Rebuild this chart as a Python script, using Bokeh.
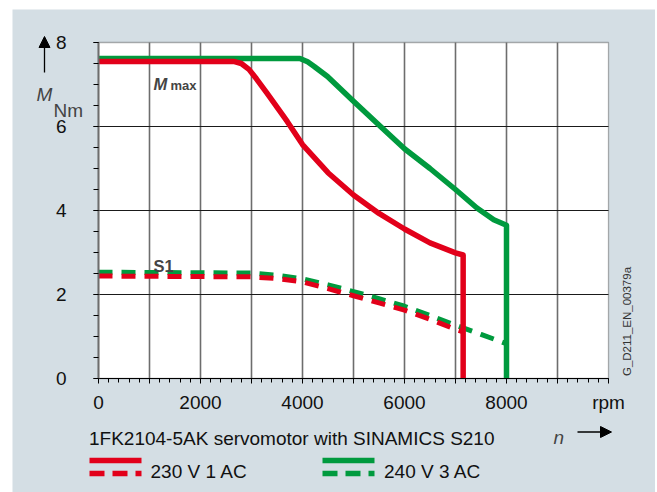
from bokeh.plotting import figure
from bokeh.models import FixedTicker, Label, Arrow, NormalHead, Range1d, Spacer, BoxAnnotation
from bokeh.layouts import row, column
from bokeh.embed import file_html
from bokeh.resources import INLINE

# ---- data ----
speed_230_mmax = [0, 2650, 2800, 2950, 3100, 3300, 3500, 3700, 4000, 4500, 5000, 5500, 6000, 6500, 7000, 7150, 7150]
torque_230_mmax = [7.55, 7.55, 7.50, 7.36, 7.13, 6.80, 6.46, 6.12, 5.57, 4.90, 4.37, 3.93, 3.56, 3.23, 2.99, 2.94, 0]

speed_240_mmax = [0, 3950, 4100, 4230, 4490, 5000, 5530, 6000, 6500, 7000, 7420, 7750, 8000, 8000]
torque_240_mmax = [7.62, 7.62, 7.54, 7.43, 7.19, 6.60, 6.00, 5.47, 5.00, 4.50, 4.06, 3.78, 3.65, 0]

speed_230_s1 = [0, 3000, 3500, 4000, 4500, 5000, 5500, 6000, 6500, 7000, 7150]
torque_230_s1 = [2.44, 2.42, 2.38, 2.30, 2.14, 1.97, 1.80, 1.63, 1.41, 1.17, 1.11]

speed_240_s1 = [0, 3000, 3500, 4000, 4500, 5000, 5500, 6000, 6500, 7000, 7500, 8000]
torque_240_s1 = [2.53, 2.51, 2.46, 2.37, 2.23, 2.07, 1.90, 1.72, 1.50, 1.27, 1.05, 0.83]

x_ticks = [0, 1000, 2000, 3000, 4000, 5000, 6000, 7000, 8000, 9000, 10000]
x_tick_labels = {0: "0", 1000: "", 2000: "2000", 3000: "", 4000: "4000", 5000: "",
                 6000: "6000", 7000: "", 8000: "8000", 9000: "", 10000: "rpm"}
y_ticks = [0, 2, 4, 6, 8]
x_limits = (0, 10000)
y_limits = (0, 8)

title_text = "1FK2104-5AK servomotor with SINAMICS S210"
legend_230 = "230 V 1 AC"
legend_240 = "240 V 3 AC"
drawing_id = "G_D211_EN_00379a"

# ---- style ----
BG = "#d4dee4"
RED = "#e2001a"
GREEN = "#009a3e"
FONT = "Liberation Sans"
FS = "19px"

# page geometry: canvas at page (12, 9), 643 x 483; plot area x 98..608, y 42..378
W, H = 643, 483
OX, OY = 12, 9
FX0, FX1, FY0, FY1 = 98, 608, 42, 378
sx_per = (FX1 - FX0) / (x_limits[1] - x_limits[0])
sy_per = (FY1 - FY0) / (y_limits[1] - y_limits[0])


def px_x(sx):
    return x_limits[0] + (sx - FX0) / sx_per


def px_y(sy):
    return y_limits[0] + (FY1 - sy) / sy_per


p = figure(width=W, height=H,
           x_range=Range1d(px_x(OX), px_x(OX + W)), y_range=Range1d(px_y(OY + H), px_y(OY)),
           output_backend="svg", toolbar_location=None, min_border=0,
           background_fill_color=BG, border_fill_color=BG, outline_line_color=None)

# white plot area with black border
p.add_layout(BoxAnnotation(left=x_limits[0], right=x_limits[1], bottom=y_limits[0], top=y_limits[1],
                           fill_color="white", fill_alpha=1, line_color="black", line_width=1.3,
                           level="image"))

# axes (drawn at the plot area edges)
xa = p.xaxis[0]
xa.fixed_location = 0
xa.bounds = x_limits
xa.ticker = FixedTicker(ticks=x_ticks, minor_ticks=list(range(0, 10001, 200)))
xa.major_label_overrides = x_tick_labels
xa.axis_line_color = "black"
xa.axis_line_width = 1.2
xa.major_tick_line_color = "black"
xa.minor_tick_line_color = "black"
xa.major_tick_out = 5
xa.major_tick_in = 0
xa.minor_tick_out = 4
xa.minor_tick_in = 0
xa.major_label_standoff = 8
xa.major_label_text_font = FONT
xa.major_label_text_font_size = FS
xa.major_label_text_color = "#111111"

ya = p.yaxis[0]
ya.fixed_location = 0
ya.bounds = y_limits
ya.ticker = FixedTicker(ticks=y_ticks, minor_ticks=[i * 0.5 for i in range(17)])
ya.axis_line_color = "#6d6d6d"
ya.axis_line_width = 2
ya.major_tick_line_color = "black"
ya.minor_tick_line_color = "black"
ya.major_tick_out = 5
ya.major_tick_in = 0
ya.minor_tick_out = 5
ya.minor_tick_in = 0
ya.major_label_standoff = 27
ya.major_label_text_font = FONT
ya.major_label_text_font_size = FS
ya.major_label_text_color = "#111111"

# grids, limited to the plot area
p.xgrid.ticker = FixedTicker(ticks=x_ticks[1:-1])
p.xgrid.grid_line_color = "#6d6d6d"
p.xgrid.grid_line_width = 1.6
p.ygrid.ticker = FixedTicker(ticks=[2, 4, 6])
p.ygrid.grid_line_color = "#1a1a1a"
p.ygrid.grid_line_width = 1.2
p.xgrid.bounds = x_limits
p.ygrid.bounds = y_limits
grid_ok = True
try:
    p.xgrid.cross_bounds = y_limits
    p.ygrid.cross_bounds = x_limits
except Exception:
    grid_ok = False
if not grid_ok:
    p.xgrid.visible = False
    p.ygrid.visible = False
    gx = x_ticks[1:-1]
    p.segment(x0=gx, y0=[y_limits[0]] * len(gx), x1=gx, y1=[y_limits[1]] * len(gx),
              line_color="#6d6d6d", line_width=1.6)
    gy = [2, 4, 6]
    p.segment(x0=[x_limits[0]] * len(gy), y0=gy, x1=[x_limits[1]] * len(gy), y1=gy,
              line_color="#1a1a1a", line_width=1.2)

# curves
p.line(speed_240_s1, torque_240_s1, line_color=GREEN, line_width=5, line_dash="14 9")
p.line(speed_230_s1, torque_230_s1, line_color=RED, line_width=5, line_dash="14 9")
p.line(speed_240_mmax, torque_240_mmax, line_color=GREEN, line_width=5.5, line_join="round")
p.line(speed_230_mmax, torque_230_mmax, line_color=RED, line_width=5.5, line_join="round")

# curve labels
p.add_layout(Label(x=px_x(153), y=px_y(83.5), text="M", text_font=FONT, text_font_size="16.5px",
                   text_font_style="bold italic", text_baseline="alphabetic"))
p.add_layout(Label(x=px_x(170), y=px_y(84.5), text="max", text_font=FONT, text_font_size="13px",
                   text_font_style="bold", text_baseline="alphabetic"))
p.add_layout(Label(x=px_x(153), y=px_y(265), text="S1", text_font=FONT, text_font_size="16.5px",
                   text_font_style="bold", text_baseline="alphabetic"))

# y-axis quantity
p.add_layout(Arrow(x_start=px_x(44), y_start=px_y(72), x_end=px_x(44), y_end=px_y(36),
                   line_color="black", line_width=1.3,
                   end=NormalHead(size=11, fill_color="black", line_color="black")))
p.add_layout(Label(x=px_x(44), y=px_y(93.5), text="M", text_font=FONT, text_font_size=FS,
                   text_font_style="italic", text_align="center", text_baseline="alphabetic"))
p.add_layout(Label(x=px_x(53), y=px_y(110), text="Nm", text_font=FONT, text_font_size=FS,
                   text_baseline="alphabetic"))

# x-axis quantity and title
p.add_layout(Label(x=px_x(88.5), y=px_y(438), text=title_text, text_font=FONT, text_font_size=FS,
                   text_baseline="alphabetic", text_color="#111111"))
p.add_layout(Label(x=px_x(553), y=px_y(437), text="n", text_font=FONT, text_font_size=FS,
                   text_font_style="italic", text_baseline="alphabetic"))
p.add_layout(Arrow(x_start=px_x(577), y_start=px_y(431.5), x_end=px_x(611), y_end=px_y(431.5),
                   line_color="black", line_width=1.3,
                   end=NormalHead(size=11, fill_color="black", line_color="black")))

# legend
for x0, x1, col, txt, tx in [(89, 141, RED, legend_230, 150), (322, 374, GREEN, legend_240, 383.5)]:
    p.add_layout(Arrow(x_start=px_x(x0), y_start=px_y(460), x_end=px_x(x1), y_end=px_y(460),
                       line_color=col, line_width=5.3, end=None))
    p.add_layout(Arrow(x_start=px_x(x0), y_start=px_y(473), x_end=px_x(x1), y_end=px_y(473),
                       line_color=col, line_width=5.3, line_dash="15 8", end=None))
    p.add_layout(Label(x=px_x(tx), y=px_y(470.7), text=txt, text_font=FONT, text_font_size=FS,
                       text_baseline="alphabetic", text_color="#111111"))

# drawing id
p.add_layout(Label(x=px_x(626), y=px_y(321), text=drawing_id, text_font=FONT, text_font_size="11.5px",
                   angle=1.5707963, text_align="center", text_baseline="middle", text_color="#333333"))

layout = column(Spacer(height=OY, width=1), row(Spacer(width=OX, height=1), p))

open("out.html", "w").write(file_html(layout, INLINE))
